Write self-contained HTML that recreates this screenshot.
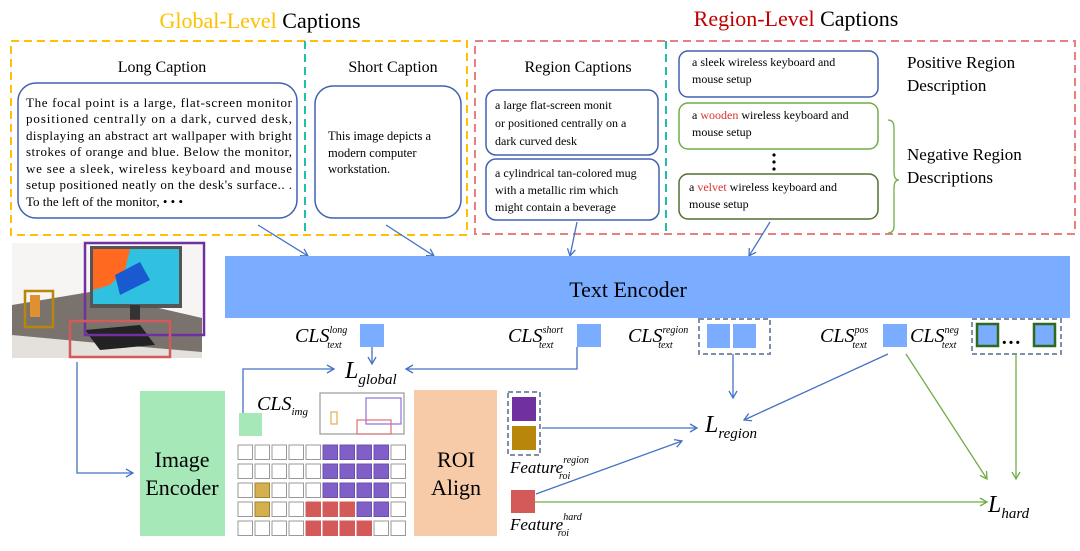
<!DOCTYPE html>
<html><head><meta charset="utf-8"><style>
body{margin:0;background:#fff}
svg{display:block}
text{font-family:"Liberation Serif",serif;fill:#000}
.i{font-style:italic}
</style></head><body>
<svg width="1080" height="551" viewBox="0 0 1080 551" xmlns="http://www.w3.org/2000/svg">
<defs>
<marker id="ab" markerWidth="10" markerHeight="10" refX="8" refY="5" orient="auto" markerUnits="userSpaceOnUse"><path d="M1,1 L8,5 L1,9" fill="none" stroke="#4472c4" stroke-width="1.3"/></marker>
<marker id="ag" markerWidth="10" markerHeight="10" refX="8" refY="5" orient="auto" markerUnits="userSpaceOnUse"><path d="M1,1 L8,5 L1,9" fill="none" stroke="#70ad47" stroke-width="1.3"/></marker>
</defs>
<text x="260" y="28" font-size="22" text-anchor="middle"><tspan style="fill:#ffc000">Global-Level</tspan> Captions</text>
<text x="796" y="26" font-size="22" text-anchor="middle"><tspan style="fill:#c00000">Region-Level</tspan> Captions</text>
<rect x="11" y="41" width="456" height="194" fill="none" stroke="#ffc000" stroke-width="2" stroke-dasharray="8,5"/>
<line x1="305" y1="41" x2="305" y2="235" stroke="#20c0a8" stroke-width="2" stroke-dasharray="8,5"/>
<rect x="475" y="41" width="600" height="193" fill="none" stroke="#e88080" stroke-width="2" stroke-dasharray="8,5"/>
<line x1="666" y1="41" x2="666" y2="234" stroke="#20c0a8" stroke-width="2" stroke-dasharray="8,5"/>
<text x="162" y="72" font-size="16" text-anchor="middle">Long Caption</text>
<rect x="18" y="83" width="279" height="135" rx="18" fill="#fff" stroke="#4060b0" stroke-width="1.5"/>
<g font-size="13">
<text x="26" y="107" textLength="266" lengthAdjust="spacing">The focal point is a large, flat-screen monitor</text>
<text x="26" y="123" textLength="266" lengthAdjust="spacing">positioned centrally on a dark, curved desk,</text>
<text x="26" y="140" textLength="266" lengthAdjust="spacing">displaying an abstract art wallpaper with bright</text>
<text x="26" y="156" textLength="266" lengthAdjust="spacing">strokes of orange and blue. Below the monitor,</text>
<text x="26" y="173" textLength="266" lengthAdjust="spacing">we see a sleek, wireless keyboard and mouse</text>
<text x="26" y="189" textLength="266" lengthAdjust="spacing">setup positioned neatly on the desk's surface.. .</text>
<text x="26" y="206">To the left of the monitor, • • •</text>
</g>
<text x="393" y="72" font-size="16" text-anchor="middle">Short Caption</text>
<rect x="315" y="86" width="146" height="132" rx="18" fill="#fff" stroke="#4060b0" stroke-width="1.5"/>
<g font-size="12.5">
<text x="328" y="140">This image depicts a</text>
<text x="328" y="157">modern computer</text>
<text x="328" y="173">workstation.</text>
</g>
<text x="578" y="72" font-size="16" text-anchor="middle">Region Captions</text>
<rect x="486" y="90" width="172" height="65" rx="10" fill="#fff" stroke="#4060b0" stroke-width="1.5"/>
<g font-size="12">
<text x="495" y="109">a large flat-screen monit</text>
<text x="495" y="127">or positioned centrally on a</text>
<text x="495" y="145">dark curved desk</text>
</g>
<rect x="486" y="159" width="173" height="61" rx="10" fill="#fff" stroke="#4060b0" stroke-width="1.5"/>
<g font-size="12">
<text x="495" y="177">a cylindrical tan-colored mug</text>
<text x="495" y="194">with a metallic rim which</text>
<text x="495" y="211">might contain a beverage</text>
</g>
<rect x="679" y="51" width="199" height="46" rx="9" fill="#fff" stroke="#4060b0" stroke-width="1.5"/>
<g font-size="12">
<text x="692" y="66">a sleek wireless keyboard and</text>
<text x="692" y="83">mouse setup</text>
</g>
<rect x="679" y="103" width="199" height="46" rx="9" fill="#fff" stroke="#70ad47" stroke-width="1.5"/>
<g font-size="12">
<text x="692" y="119">a <tspan style="fill:#e03030">wooden</tspan> wireless keyboard and</text>
<text x="692" y="136">mouse setup</text>
</g>
<circle cx="774" cy="155" r="1.6" fill="#000"/><circle cx="774" cy="162" r="1.6" fill="#000"/><circle cx="774" cy="169" r="1.6" fill="#000"/>
<rect x="679" y="174" width="199" height="45" rx="9" fill="#fff" stroke="#507030" stroke-width="1.5"/>
<g font-size="12">
<text x="689" y="191">a <tspan style="fill:#e03030">velvet</tspan> wireless keyboard and</text>
<text x="689" y="208">mouse setup</text>
</g>
<path d="M888,120 Q894,120 894,128 L894,172 Q894,180 899,180 Q894,180 894,188 L894,226 Q894,233 888,233" fill="none" stroke="#70ad47" stroke-width="1.3"/>
<g font-size="17">
<text x="907" y="68">Positive Region</text>
<text x="907" y="91">Description</text>
<text x="907" y="160">Negative Region</text>
<text x="907" y="183">Descriptions</text>
</g>
<g stroke="#4472c4" stroke-width="1.3" fill="none" marker-end="url(#ab)">
<line x1="258" y1="225" x2="308" y2="256"/>
<line x1="386" y1="225" x2="434" y2="256"/>
<line x1="577" y1="222" x2="570" y2="256"/>
<line x1="770" y1="222" x2="749" y2="256"/>
</g>
<rect x="225" y="256" width="845" height="62" fill="#7aacff"/>
<text x="628" y="297" font-size="22" text-anchor="middle">Text Encoder</text>
<rect x="12" y="243" width="190" height="115" fill="#f6f5f3"/>
<path d="M12,305 L90,292 L202,318 L202,358 L12,358 Z" fill="#7a726c"/>
<path d="M12,335 L120,345 L202,352 L202,358 L12,358Z" fill="#e4e0dc"/>
<rect x="90" y="246" width="92" height="62" fill="#555"/>
<rect x="93" y="249" width="86" height="55" fill="#30c0e0"/>
<path d="M93,249 L130,249 L125,270 L110,285 L93,290Z" fill="#ff6a20"/>
<path d="M115,275 L140,262 L150,280 L120,295Z" fill="#1a5ad0"/>
<rect x="130" y="305" width="10" height="15" fill="#333"/>
<path d="M85,330 L140,325 L155,345 L100,350Z" fill="#222"/>
<rect x="30" y="295" width="10" height="22" fill="#e09030"/>
<rect x="85" y="243" width="119" height="92" fill="none" stroke="#7030a0" stroke-width="2.5"/>
<rect x="25" y="291" width="28" height="36" fill="none" stroke="#b8860b" stroke-width="2.5"/>
<rect x="70" y="321" width="100" height="36" fill="none" stroke="#d45a5a" stroke-width="2.5"/>
<polyline points="77,362 77,473 133,473" fill="none" stroke="#4472c4" stroke-width="1.3" marker-end="url(#ab)"/>
<rect x="140" y="391" width="85" height="145" fill="#a6e8b8"/>
<text x="182" y="467" font-size="22" text-anchor="middle">Image</text>
<text x="182" y="495" font-size="22" text-anchor="middle">Encoder</text>
<text x="257" y="410" font-size="20" class="i">CLS<tspan font-size="11" dy="5">img</tspan></text>
<rect x="239" y="413" width="23" height="23" fill="#a6e8b8"/>
<polyline points="243,413 243,369 334,369" fill="none" stroke="#4472c4" stroke-width="1.3" marker-end="url(#ab)"/>
<rect x="320" y="393" width="84" height="41" fill="#fff" stroke="#999" stroke-width="1.2"/>
<rect x="366" y="398" width="35" height="26" fill="none" stroke="#9070e0" stroke-width="1.2"/>
<rect x="357" y="420" width="34" height="14" fill="none" stroke="#e07070" stroke-width="1.2"/>
<rect x="331" y="412" width="6" height="12" fill="none" stroke="#e0b050" stroke-width="1.2"/>
<rect x="414" y="390" width="83" height="146" fill="#f7cba8"/>
<text x="456" y="467" font-size="22" text-anchor="middle">ROI</text>
<text x="456" y="495" font-size="22" text-anchor="middle">Align</text>
<rect x="508" y="392" width="32" height="63" fill="none" stroke="#8090a8" stroke-width="2" stroke-dasharray="5,3"/>
<rect x="512" y="397" width="24" height="24" fill="#7030a0"/>
<rect x="512" y="426" width="24" height="24" fill="#b8860b"/>
<text x="510" y="473" font-size="17" class="i">Feature<tspan font-size="10" dy="-10">region</tspan><tspan font-size="10" dx="-30" dy="16">roi</tspan></text>
<rect x="511" y="490" width="24" height="23" fill="#d45a5a"/>
<text x="510" y="530" font-size="17" class="i">Feature<tspan font-size="10" dy="-10">hard</tspan><tspan font-size="10" dx="-24" dy="16">roi</tspan></text>
<text x="295" y="342" font-size="20" class="i">CLS<tspan font-size="10" dy="-9">long</tspan><tspan font-size="10" dx="-20" dy="15">text</tspan></text>
<rect x="360" y="324" width="24" height="23" fill="#7aacff"/>
<line x1="372" y1="347" x2="372" y2="364" stroke="#4472c4" stroke-width="1.3" marker-end="url(#ab)"/>
<text x="345" y="378" font-size="24" class="i">L<tspan font-size="15" dy="6">global</tspan></text>
<text x="508" y="342" font-size="20" class="i">CLS<tspan font-size="10" dy="-9">short</tspan><tspan font-size="10" dx="-24" dy="15">text</tspan></text>
<rect x="577" y="324" width="24" height="23" fill="#7aacff"/>
<polyline points="577,347 577,369 406,369" fill="none" stroke="#4472c4" stroke-width="1.3" marker-end="url(#ab)"/>
<text x="628" y="342" font-size="20" class="i">CLS<tspan font-size="10" dy="-9">region</tspan><tspan font-size="10" dx="-30" dy="15">text</tspan></text>
<rect x="699" y="319" width="71" height="35" fill="none" stroke="#8090a8" stroke-width="2" stroke-dasharray="5,3"/>
<rect x="707" y="324" width="23" height="24" fill="#7aacff"/>
<rect x="733" y="324" width="23" height="24" fill="#7aacff"/>
<line x1="733" y1="354" x2="733" y2="398" stroke="#4472c4" stroke-width="1.3" marker-end="url(#ab)"/>
<text x="705" y="432" font-size="24" class="i">L<tspan font-size="15" dy="6">region</tspan></text>
<text x="820" y="342" font-size="20" class="i">CLS<tspan font-size="10" dy="-9">pos</tspan><tspan font-size="10" dx="-16" dy="15">text</tspan></text>
<rect x="883" y="324" width="24" height="23" fill="#7aacff"/>
<text x="910" y="342" font-size="20" class="i">CLS<tspan font-size="10" dy="-9">neg</tspan><tspan font-size="10" dx="-17" dy="15">text</tspan></text>
<rect x="972" y="319" width="89" height="35" fill="none" stroke="#8090a8" stroke-width="2" stroke-dasharray="5,3"/>
<rect x="977" y="324" width="21" height="22" fill="#7aacff" stroke="#2e6a1e" stroke-width="2.5"/>
<text x="1011" y="344" font-size="20" text-anchor="middle" font-weight="bold">…</text>
<rect x="1034" y="324" width="21" height="22" fill="#7aacff" stroke="#2e6a1e" stroke-width="2.5"/>
<line x1="888" y1="354" x2="744" y2="420" stroke="#4472c4" stroke-width="1.3" marker-end="url(#ab)"/>
<line x1="542" y1="428" x2="697" y2="428" stroke="#4472c4" stroke-width="1.3" marker-end="url(#ab)"/>
<line x1="536" y1="494" x2="682" y2="441" stroke="#4472c4" stroke-width="1.3" marker-end="url(#ab)"/>
<line x1="906" y1="354" x2="987" y2="479" stroke="#70ad47" stroke-width="1.3" marker-end="url(#ag)"/>
<line x1="1016" y1="354" x2="1016" y2="479" stroke="#70ad47" stroke-width="1.3" marker-end="url(#ag)"/>
<line x1="535" y1="502" x2="987" y2="502" stroke="#70ad47" stroke-width="1.3" marker-end="url(#ag)"/>
<text x="988" y="512" font-size="24" class="i">L<tspan font-size="15" dy="6">hard</tspan></text>
<g stroke-width="1">
<g fill="#fff" stroke="#999">
<rect x="238" y="445" width="14.5" height="14.5"/><rect x="255" y="445" width="14.5" height="14.5"/><rect x="272" y="445" width="14.5" height="14.5"/><rect x="289" y="445" width="14.5" height="14.5"/><rect x="306" y="445" width="14.5" height="14.5"/><rect x="391" y="445" width="14.5" height="14.5"/>
<rect x="238" y="464" width="14.5" height="14.5"/><rect x="255" y="464" width="14.5" height="14.5"/><rect x="272" y="464" width="14.5" height="14.5"/><rect x="289" y="464" width="14.5" height="14.5"/><rect x="306" y="464" width="14.5" height="14.5"/><rect x="391" y="464" width="14.5" height="14.5"/>
<rect x="238" y="483" width="14.5" height="14.5"/><rect x="272" y="483" width="14.5" height="14.5"/><rect x="289" y="483" width="14.5" height="14.5"/><rect x="306" y="483" width="14.5" height="14.5"/><rect x="391" y="483" width="14.5" height="14.5"/>
<rect x="238" y="502" width="14.5" height="14.5"/><rect x="272" y="502" width="14.5" height="14.5"/><rect x="289" y="502" width="14.5" height="14.5"/><rect x="391" y="502" width="14.5" height="14.5"/>
<rect x="238" y="521" width="14.5" height="14.5"/><rect x="255" y="521" width="14.5" height="14.5"/><rect x="272" y="521" width="14.5" height="14.5"/><rect x="289" y="521" width="14.5" height="14.5"/><rect x="374" y="521" width="14.5" height="14.5"/><rect x="391" y="521" width="14.5" height="14.5"/>
</g>
<g fill="#8060c8" stroke="#6a50a8">
<rect x="323" y="445" width="14.5" height="14.5"/><rect x="340" y="445" width="14.5" height="14.5"/><rect x="357" y="445" width="14.5" height="14.5"/><rect x="374" y="445" width="14.5" height="14.5"/>
<rect x="323" y="464" width="14.5" height="14.5"/><rect x="340" y="464" width="14.5" height="14.5"/><rect x="357" y="464" width="14.5" height="14.5"/><rect x="374" y="464" width="14.5" height="14.5"/>
<rect x="323" y="483" width="14.5" height="14.5"/><rect x="340" y="483" width="14.5" height="14.5"/><rect x="357" y="483" width="14.5" height="14.5"/><rect x="374" y="483" width="14.5" height="14.5"/>
<rect x="357" y="502" width="14.5" height="14.5"/><rect x="374" y="502" width="14.5" height="14.5"/>
</g>
<g fill="#d4b050" stroke="#a08030">
<rect x="255" y="483" width="14.5" height="14.5"/><rect x="255" y="502" width="14.5" height="14.5"/>
</g>
<g fill="#d45a5a" stroke="#d45a5a">
<rect x="306" y="502" width="14.5" height="14.5"/><rect x="323" y="502" width="14.5" height="14.5"/><rect x="340" y="502" width="14.5" height="14.5"/>
<rect x="306" y="521" width="14.5" height="14.5"/><rect x="323" y="521" width="14.5" height="14.5"/><rect x="340" y="521" width="14.5" height="14.5"/><rect x="357" y="521" width="14.5" height="14.5"/>
</g>
</g>
</svg>
</body></html>
